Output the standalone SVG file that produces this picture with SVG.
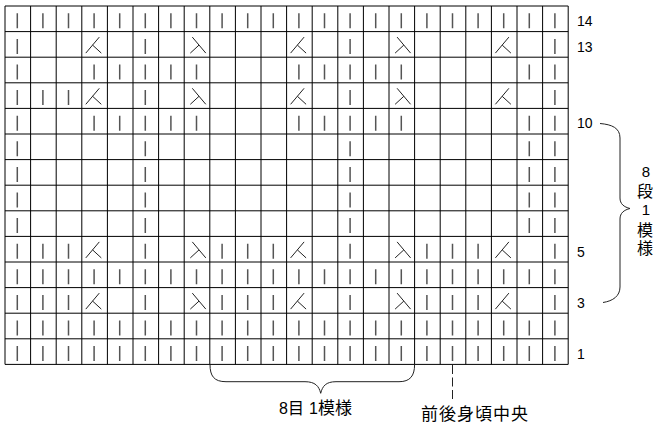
<svg xmlns="http://www.w3.org/2000/svg" xmlns:xlink="http://www.w3.org/1999/xlink" width="654" height="423" viewBox="0 0 654 423">
<style>
.grid{stroke:#000;stroke-width:1;fill:none}
.st{stroke:#555;stroke-width:1.5;fill:none}
.dec{stroke:#222;stroke-width:1;fill:none}
.brace{stroke:#222;stroke-width:1;fill:none}
.num{font-family:"Liberation Sans",Arial,sans-serif;font-size:14px;fill:#000}
.cjk{font-family:"Liberation Sans","Noto Sans CJK JP",sans-serif;font-size:16px;fill:#000}
</style>
<defs>
<path id="symA" class="dec" d="M17.5,5.5L4,21.5M10.8,13.5L19.5,21.5"/>
<path id="symB" class="dec" d="M8.1,5.5L21.6,21.5M14.8,13.5L6.1,21.5"/>
</defs>
<rect width="654" height="423" fill="#fff"/>
<g id="grid">
<path class="grid" d="M5,6V364.4M30.6,6V364.4M56.2,6V364.4M81.8,6V364.4M107.4,6V364.4M133,6V364.4M158.6,6V364.4M184.2,6V364.4M209.8,6V364.4M235.4,6V364.4M261,6V364.4M286.6,6V364.4M312.2,6V364.4M337.8,6V364.4M363.4,6V364.4M389,6V364.4M414.6,6V364.4M440.2,6V364.4M465.8,6V364.4M491.4,6V364.4M517,6V364.4M542.6,6V364.4M568.2,6V364.4"/>
<path class="grid" d="M5,6H568.2M5,31.6H568.2M5,57.2H568.2M5,82.8H568.2M5,108.4H568.2M5,134H568.2M5,159.6H568.2M5,185.2H568.2M5,210.8H568.2M5,236.4H568.2M5,262H568.2M5,287.6H568.2M5,313.2H568.2M5,338.8H568.2M5,364.4H568.2"/>
</g>
<g id="stitches" class="st">
<path d="M17.3,13.3v15M42.9,13.3v15M68.5,13.3v15M94.1,13.3v15M119.7,13.3v15M145.3,13.3v15M170.9,13.3v15M196.5,13.3v15M222.1,13.3v15M247.7,13.3v15M273.3,13.3v15M298.9,13.3v15M324.5,13.3v15M350.1,13.3v15M375.7,13.3v15M401.3,13.3v15M426.9,13.3v15M452.5,13.3v15M478.1,13.3v15M503.7,13.3v15M529.3,13.3v15M554.9,13.3v15"/>
<path d="M17.3,269.3v15M42.9,269.3v15M68.5,269.3v15M94.1,269.3v15M119.7,269.3v15M145.3,269.3v15M170.9,269.3v15M196.5,269.3v15M222.1,269.3v15M247.7,269.3v15M273.3,269.3v15M298.9,269.3v15M324.5,269.3v15M350.1,269.3v15M375.7,269.3v15M401.3,269.3v15M426.9,269.3v15M452.5,269.3v15M478.1,269.3v15M503.7,269.3v15M529.3,269.3v15M554.9,269.3v15"/>
<path d="M17.3,320.5v15M42.9,320.5v15M68.5,320.5v15M94.1,320.5v15M119.7,320.5v15M145.3,320.5v15M170.9,320.5v15M196.5,320.5v15M222.1,320.5v15M247.7,320.5v15M273.3,320.5v15M298.9,320.5v15M324.5,320.5v15M350.1,320.5v15M375.7,320.5v15M401.3,320.5v15M426.9,320.5v15M452.5,320.5v15M478.1,320.5v15M503.7,320.5v15M529.3,320.5v15M554.9,320.5v15"/>
<path d="M17.3,346.1v15M42.9,346.1v15M68.5,346.1v15M94.1,346.1v15M119.7,346.1v15M145.3,346.1v15M170.9,346.1v15M196.5,346.1v15M222.1,346.1v15M247.7,346.1v15M273.3,346.1v15M298.9,346.1v15M324.5,346.1v15M350.1,346.1v15M375.7,346.1v15M401.3,346.1v15M426.9,346.1v15M452.5,346.1v15M478.1,346.1v15M503.7,346.1v15M529.3,346.1v15M554.9,346.1v15"/>
<path d="M17.3,38.9v15M145.3,38.9v15M350.1,38.9v15M554.9,38.9v15"/>
<path d="M17.3,64.5v15M94.1,64.5v15M119.7,64.5v15M145.3,64.5v15M170.9,64.5v15M196.5,64.5v15M298.9,64.5v15M324.5,64.5v15M350.1,64.5v15M375.7,64.5v15M401.3,64.5v15M529.3,64.5v15M554.9,64.5v15"/>
<path d="M17.3,90.1v15M42.9,90.1v15M68.5,90.1v15M145.3,90.1v15M350.1,90.1v15M554.9,90.1v15"/>
<path d="M17.3,115.7v15M94.1,115.7v15M119.7,115.7v15M145.3,115.7v15M170.9,115.7v15M196.5,115.7v15M298.9,115.7v15M324.5,115.7v15M350.1,115.7v15M375.7,115.7v15M401.3,115.7v15M529.3,115.7v15M554.9,115.7v15"/>
<path d="M17.3,141.3v15M145.3,141.3v15M350.1,141.3v15M529.3,141.3v15M554.9,141.3v15"/>
<path d="M17.3,166.9v15M145.3,166.9v15M350.1,166.9v15M529.3,166.9v15M554.9,166.9v15"/>
<path d="M17.3,192.5v15M145.3,192.5v15M350.1,192.5v15M529.3,192.5v15M554.9,192.5v15"/>
<path d="M17.3,218.1v15M145.3,218.1v15M350.1,218.1v15M529.3,218.1v15M554.9,218.1v15"/>
<path d="M17.3,243.7v15M42.9,243.7v15M68.5,243.7v15M145.3,243.7v15M222.1,243.7v15M247.7,243.7v15M273.3,243.7v15M350.1,243.7v15M426.9,243.7v15M452.5,243.7v15M478.1,243.7v15M554.9,243.7v15"/>
<path d="M17.3,294.9v15M42.9,294.9v15M68.5,294.9v15M145.3,294.9v15M222.1,294.9v15M247.7,294.9v15M273.3,294.9v15M350.1,294.9v15M426.9,294.9v15M452.5,294.9v15M478.1,294.9v15M554.9,294.9v15"/>
</g>
<g id="decreases">
<use xlink:href="#symA" x="81.8" y="31.6"/><use xlink:href="#symA" x="286.6" y="31.6"/><use xlink:href="#symA" x="491.4" y="31.6"/>
<use xlink:href="#symB" x="184.2" y="31.6"/><use xlink:href="#symB" x="389" y="31.6"/>
<use xlink:href="#symA" x="81.8" y="82.8"/><use xlink:href="#symA" x="286.6" y="82.8"/><use xlink:href="#symA" x="491.4" y="82.8"/>
<use xlink:href="#symB" x="184.2" y="82.8"/><use xlink:href="#symB" x="389" y="82.8"/>
<use xlink:href="#symA" x="81.8" y="236.4"/><use xlink:href="#symA" x="286.6" y="236.4"/><use xlink:href="#symA" x="491.4" y="236.4"/>
<use xlink:href="#symB" x="184.2" y="236.4"/><use xlink:href="#symB" x="389" y="236.4"/>
<use xlink:href="#symA" x="81.8" y="287.6"/><use xlink:href="#symA" x="286.6" y="287.6"/><use xlink:href="#symA" x="491.4" y="287.6"/>
<use xlink:href="#symB" x="184.2" y="287.6"/><use xlink:href="#symB" x="389" y="287.6"/>
</g>
<g id="row-numbers" class="num">
<text x="577" y="26">14</text>
<text x="577" y="51.5">13</text>
<text x="577" y="128">10</text>
<text x="577" y="256.5">5</text>
<text x="577" y="308">3</text>
<text x="577" y="359">1</text>
</g>
<g id="connectors">
<path class="brace" d="M600,123.5C612,124.5 620,128 620,138L620,198C620,204 624,207 630,208.5C624,210 620,213 620,219L620,287C620,296 613,301 603,302.5"/>
<path class="brace" d="M210,364.4C210,376 214,381.7 226,381.7L305,381.7C315,381.7 319,386 320.7,393.3C322.5,386 326,381.7 336,381.7L399,381.7C410,381.7 414.6,376 414.6,364.4"/>
<path class="brace" stroke-dasharray="9 3.5" d="M452.5,365V400"/>
</g>
<g id="labels">
<text class="num" x="646" y="177" text-anchor="middle" style="font-size:15px">8</text>
<text class="cjk" x="645" y="197" text-anchor="middle">段</text>
<text class="num" x="646" y="215" text-anchor="middle" style="font-size:15px">1</text>
<text class="cjk" x="645" y="235.5" text-anchor="middle">模</text>
<text class="cjk" x="645" y="254" text-anchor="middle">様</text>
<text class="cjk" y="414"><tspan x="279">8</tspan><tspan x="288">目</tspan><tspan x="309">1</tspan><tspan x="318" style="font-size:17px">模様</tspan></text>
<text class="cjk" x="421" y="420" style="font-size:17px" textLength="107" lengthAdjust="spacing">前後身頃中央</text>
</g>
</svg>
